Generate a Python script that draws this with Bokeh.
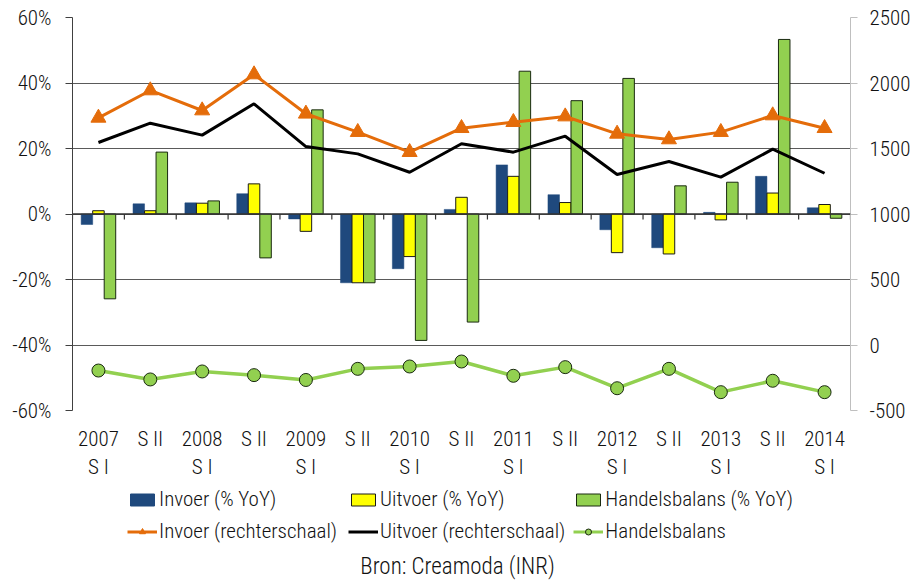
import numpy as np
from bokeh.plotting import figure
from bokeh.layouts import column
from bokeh.models import (Range1d, LinearAxis, FixedTicker, Legend, LegendItem,
                          Span, Label)
from bokeh.embed import file_html
from bokeh.resources import INLINE

categories = ["2007\nS I", "S II", "2008\nS I", "S II", "2009\nS I", "S II",
              "2010\nS I", "S II", "2011\nS I", "S II", "2012\nS I", "S II",
              "2013\nS I", "S II", "2014\nS I"]
invoer_yoy = [-3.2, 3.1, 3.4, 6.2, -1.5, -21.0, -16.7, 1.4, 15.0, 5.9, -4.8, -10.3, 0.5, 11.5, 1.9]
uitvoer_yoy = [1.0, 1.0, 3.3, 9.2, -5.3, -21.0, -13.0, 5.1, 11.5, 3.5, -11.8, -12.2, -1.8, 6.4, 2.9]
handel_yoy = [-25.9, 18.9, 4.0, -13.4, 31.8, -21.0, -38.6, -33.0, 43.6, 34.6, 41.4, 8.6, 9.7, 53.3, -1.3]
invoer_abs = [1734, 1943, 1790, 2065, 1765, 1625, 1472, 1655, 1701, 1744, 1612, 1569, 1625, 1752, 1655]
uitvoer_abs = [1546, 1693, 1602, 1841, 1515, 1459, 1319, 1536, 1472, 1594, 1302, 1401, 1281, 1495, 1311]
handel_abs = [-195, -263, -202, -230, -267, -182, -164, -126, -235, -169, -330, -182, -360, -273, -360]
left_ticks = [-60, -40, -20, 0, 20, 40, 60]
right_ticks = [-500, 0, 500, 1000, 1500, 2000, 2500]
series_labels = ["Invoer (% YoY)", "Uitvoer (% YoY)", "Handelsbalans (% YoY)",
                 "Invoer (rechterschaal)", "Uitvoer (rechterschaal)", "Handelsbalans"]
source_text = "Bron: Creamoda (INR)"

FONT = "Roboto Condensed Light"
FS = "21px"
TXT = "#111111"
C_BLUE, C_YELLOW, C_GREEN, C_ORANGE = "#1F497D", "#FFFF00", "#92D050", "#E46C0A"
EDGE_G = "#1a2a10"

idx = np.arange(len(categories))
bw = 0.222

p = figure(frame_width=778, frame_height=393,
           x_range=Range1d(-0.5, len(categories) - 0.5),
           y_range=Range1d(left_ticks[0], left_ticks[-1]),
           output_backend="svg", toolbar_location=None,
           min_border_left=72, min_border_right=54, min_border_top=17,
           min_border_bottom=71)
p.outline_line_color = None
p.extra_y_ranges = {"right": Range1d(right_ticks[0], right_ticks[-1])}

xa = p.xaxis[0]
xa.ticker = FixedTicker(ticks=list(idx))
xa.major_label_overrides = {int(i): c for i, c in zip(idx, categories)}
xa.major_tick_line_color = None
xa.minor_tick_line_color = None
xa.axis_line_color = None
xa.major_label_standoff = 10
xa.major_label_text_font = FONT
xa.major_label_text_font_size = FS
xa.major_label_text_color = TXT
p.xgrid.grid_line_color = None

ya = p.yaxis[0]
ya.ticker = FixedTicker(ticks=left_ticks)
ya.major_label_overrides = {t: f"{t}%" for t in left_ticks}
ya.axis_line_color = "#404040"
ya.major_tick_line_color = "#404040"
ya.major_tick_out = 7
ya.major_tick_in = 0
ya.minor_tick_line_color = None
ya.major_label_standoff = 14
ya.major_label_text_font = FONT
ya.major_label_text_font_size = FS
ya.major_label_text_color = TXT
p.ygrid.ticker = FixedTicker(ticks=left_ticks)
p.ygrid.grid_line_color = "#5a5a5a"

ra = LinearAxis(y_range_name="right", ticker=FixedTicker(ticks=right_ticks))
ra.major_label_overrides = {t: str(t) for t in right_ticks}
ra.axis_line_color = "#BFBFBF"
ra.major_tick_line_color = "#BFBFBF"
ra.major_tick_out = 7
ra.major_tick_in = 0
ra.minor_tick_line_color = None
ra.major_label_standoff = 12
ra.major_label_text_font = FONT
ra.major_label_text_font_size = FS
ra.major_label_text_color = TXT
p.add_layout(ra, "right")

bar_specs = [(-bw, invoer_yoy, C_BLUE, C_BLUE, 0.5),
             (0.0, uitvoer_yoy, C_YELLOW, "#1a1a1a", 1),
             (bw, handel_yoy, C_GREEN, EDGE_G, 1)]
for off, vals, fc, lc, lw in bar_specs:
    p.vbar(x=idx + off, width=bw, top=vals, bottom=0,
           fill_color=fc, line_color=lc, line_width=lw)

p.add_layout(Span(location=0, dimension="width", line_color="#333333", line_width=1.5))
bounds = np.arange(len(categories) + 1) - 0.5
p.segment(x0=bounds, x1=bounds, y0=np.zeros(len(bounds)), y1=np.full(len(bounds), -1.7),
          line_color="#333333", line_width=1.2)

p.line(idx, invoer_abs, y_range_name="right", line_color=C_ORANGE, line_width=3)
p.scatter(idx, invoer_abs, y_range_name="right", marker="triangle", size=15,
          fill_color=C_ORANGE, line_color=C_ORANGE)
p.line(idx, uitvoer_abs, y_range_name="right", line_color="#000000", line_width=3)
p.line(idx, handel_abs, y_range_name="right", line_color=C_GREEN, line_width=3.5)
p.scatter(idx, handel_abs, y_range_name="right", marker="circle", size=13,
          fill_color=C_GREEN, line_color=EDGE_G, line_width=1)

# ---- legend + source panel (separate figure below, frame aligned with main) ----
p2 = figure(frame_width=778, frame_height=100,
            x_range=Range1d(72, 850), y_range=Range1d(0, 100),
            min_border_left=72, min_border_right=54, min_border_top=0,
            min_border_bottom=0, toolbar_location=None, output_backend="svg",
            x_axis_type=None, y_axis_type=None)
p2.outline_line_color = None
p2.grid.visible = False

# invisible proxy renderers (same data) used only for legend swatches
g1 = p2.vbar(x=idx, top=invoer_yoy, width=bw, fill_color=C_BLUE, line_color=C_BLUE, visible=False)
g2 = p2.vbar(x=idx, top=uitvoer_yoy, width=bw, fill_color=C_YELLOW, line_color="#1a1a1a", visible=False)
g3 = p2.vbar(x=idx, top=handel_yoy, width=bw, fill_color=C_GREEN, line_color=EDGE_G, visible=False)
g4l = p2.line(x=idx, y=invoer_abs, line_color=C_ORANGE, line_width=3, visible=False)
g4s = p2.scatter(x=idx, y=invoer_abs, marker="triangle", size=13, fill_color=C_ORANGE,
                 line_color=C_ORANGE, visible=False)
g5 = p2.line(x=idx, y=uitvoer_abs, line_color="#000000", line_width=3, visible=False)
g6l = p2.line(x=idx, y=handel_abs, line_color=C_GREEN, line_width=3, visible=False)
g6s = p2.scatter(x=idx, y=handel_abs, marker="circle", size=11, fill_color=C_GREEN,
                 line_color=EDGE_G, visible=False)

legend = Legend(items=[
    LegendItem(label=series_labels[0], renderers=[g1]),
    LegendItem(label=series_labels[1], renderers=[g2]),
    LegendItem(label=series_labels[2], renderers=[g3]),
    LegendItem(label=series_labels[3], renderers=[g4l, g4s]),
    LegendItem(label=series_labels[4], renderers=[g5]),
    LegendItem(label=series_labels[5], renderers=[g6l, g6s]),
], ncols=3, orientation="horizontal", location=(55, 39))
legend.border_line_color = None
legend.background_fill_alpha = 0
legend.label_text_font = FONT
legend.label_text_font_size = FS
legend.label_text_color = TXT
legend.glyph_width = 30
legend.glyph_height = 15
legend.label_standoff = 2
legend.spacing = 8
legend.label_width = 181
legend.label_height = 24
legend.padding = 0
legend.margin = 0
p2.add_layout(legend, "center")

p2.add_layout(Label(x=457, y=16, text=source_text, text_align="center",
                    text_baseline="middle", text_font=FONT,
                    text_font_size="23px", text_color=TXT))

open("out.html", "w").write(file_html(column(p, p2, spacing=0), INLINE))
